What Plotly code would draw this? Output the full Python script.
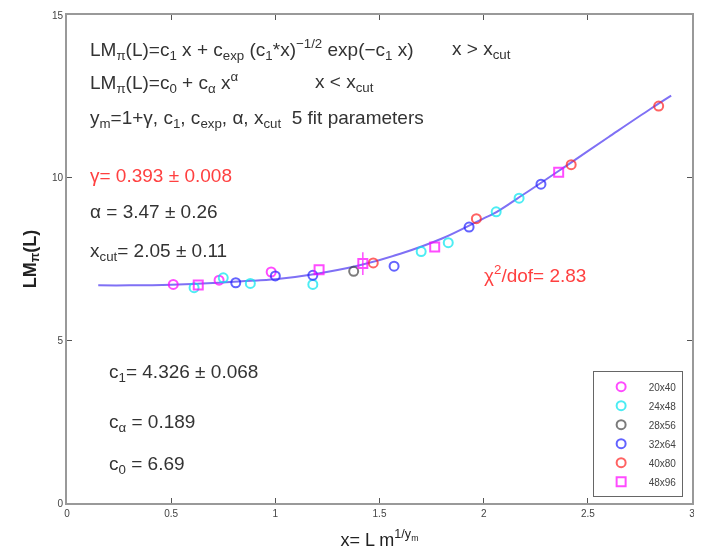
import plotly.graph_objects as go

# ---- data ----
s20_x = [0.51, 0.73, 0.98]
s20_y = [6.72, 6.85, 7.10]
s24_x = [0.61, 0.75, 0.88, 1.18, 1.70, 1.83, 2.06, 2.17]
s24_y = [6.62, 6.92, 6.75, 6.72, 7.73, 8.00, 8.95, 9.37]
s28_x = [1.376]
s28_y = [7.12]
s32_x = [0.81, 1.00, 1.18, 1.57, 1.93, 2.275]
s32_y = [6.77, 6.98, 7.00, 7.28, 8.48, 9.80]
s40_x = [1.47, 1.965, 2.42, 2.84]
s40_y = [7.38, 8.74, 10.40, 12.20]
s48_x = [0.63, 1.21, 1.42, 1.765, 2.36]
s48_y = [6.70, 7.17, 7.36, 7.87, 10.17]
s48_err = [0, 0, 0.35, 0, 0]

fit_x = [0.15, 0.3, 0.5, 0.7, 0.8, 1.0, 1.2, 1.4, 1.6, 1.8, 2.0, 2.05, 2.2, 2.4, 2.6, 2.8, 2.9]
fit_y = [6.69, 6.69, 6.71, 6.76, 6.80, 6.88, 7.05, 7.30, 7.66, 8.13, 8.75, 8.90, 9.52, 10.38, 11.25, 12.11, 12.52]

series = [
    ("20x40", s20_x, s20_y, "#ff00ff", "circle-open", None),
    ("24x48", s24_x, s24_y, "#00e5ee", "circle-open", None),
    ("28x56", s28_x, s28_y, "#444444", "circle-open", None),
    ("32x64", s32_x, s32_y, "#2020ff", "circle-open", None),
    ("40x80", s40_x, s40_y, "#ff2020", "circle-open", None),
    ("48x96", s48_x, s48_y, "#ff00ff", "square-open", s48_err),
]

fig = go.Figure()
fig.add_trace(go.Scatter(x=fit_x, y=fit_y, mode="lines", line=dict(color="#7f70f5", width=2, shape="spline"),
                         showlegend=False, hoverinfo="skip"))
for name, xs, ys, col, sym, err in series:
    kw = {}
    if err is not None:
        kw["error_y"] = dict(type="data", array=err, visible=True, color=col, width=0, thickness=1.5)
    fig.add_trace(go.Scatter(x=xs, y=ys, mode="markers", name=name,
                             marker=dict(symbol=sym, size=9, color=col, line=dict(width=2, color=col)),
                             opacity=0.7, **kw))

txt = "#333333"
red = "#ff4040"
F = "Liberation Sans, Arial, sans-serif"
FS = 19
ann = [
    (0.10, 13.93, "LM<sub>π</sub>(L)=c<sub>1</sub> x + c<sub>exp</sub> (c<sub>1</sub>*x)<sup>−1/2</sup> exp(−c<sub>1</sub> x)", txt),
    (1.84, 13.93, "x > x<sub>cut</sub>", txt),
    (0.10, 12.92, "LM<sub>π</sub>(L)=c<sub>0</sub> + c<sub>α</sub> x<sup>α</sup>", txt),
    (1.18, 12.92, "x < x<sub>cut</sub>", txt),
    (0.10, 11.79, "y<sub>m</sub>=1+γ, c<sub>1</sub>, c<sub>exp</sub>, α, x<sub>cut</sub>  5 fit parameters", txt),
    (0.10, 10.08, "γ= 0.393 ± 0.008", red),
    (0.10, 8.95, "α = 3.47 ± 0.26", txt),
    (0.10, 7.73, "x<sub>cut</sub>= 2.05 ± 0.11", txt),
    (1.99, 7.05, "χ<sup>2</sup>/dof= 2.83", red),
    (0.19, 4.00, "c<sub>1</sub>= 4.326 ± 0.068", txt),
    (0.19, 2.47, "c<sub>α</sub> = 0.189", txt),
    (0.19, 1.16, "c<sub>0</sub> = 6.69", txt),
]
for x, y, t, c in ann:
    fig.add_annotation(x=x, y=y, xref="x", yref="y", text=t, showarrow=False,
                       xanchor="left", yanchor="middle", font=dict(color=c, size=FS, family=F))

axis_common = dict(showgrid=False, zeroline=False, ticks="inside", ticklen=5, tickwidth=1,
                   tickcolor="#555", showline=True, linecolor="#999", linewidth=2, mirror="ticks",
                   automargin=False, ticklabeloverflow="allow",
                   tickfont=dict(size=10, color="#444", family=F))
fig.update_xaxes(range=[0, 3], tickvals=[0, 0.5, 1, 1.5, 2, 2.5, 3], ticktext=["0", "0.5", "1", "1.5", "2", "2.5", "3"],
                 title=dict(text="x= L m<sup>1/y<sub>m</sub></sup>", font=dict(size=18, color="#222", family=F), standoff=15),
                 **axis_common)
fig.update_yaxes(range=[0, 15], tickvals=[0, 5, 10, 15],
                 title=dict(text="<b>LM<sub>π</sub>(L)</b>", font=dict(size=18, color="#222", family=F), standoff=11),
                 **axis_common)
fig.update_layout(
    width=702, height=554,
    margin=dict(l=59, r=18, t=7, b=59),
    plot_bgcolor="white", paper_bgcolor="white",
    font=dict(family=F),
    legend=dict(x=0.985, y=0.012, xanchor="right", yanchor="bottom", bordercolor="#666", borderwidth=1,
                bgcolor="white", font=dict(size=10, color="#444", family=F), itemwidth=45,
                tracegroupgap=0),
)
fig.write_html("out.html")
